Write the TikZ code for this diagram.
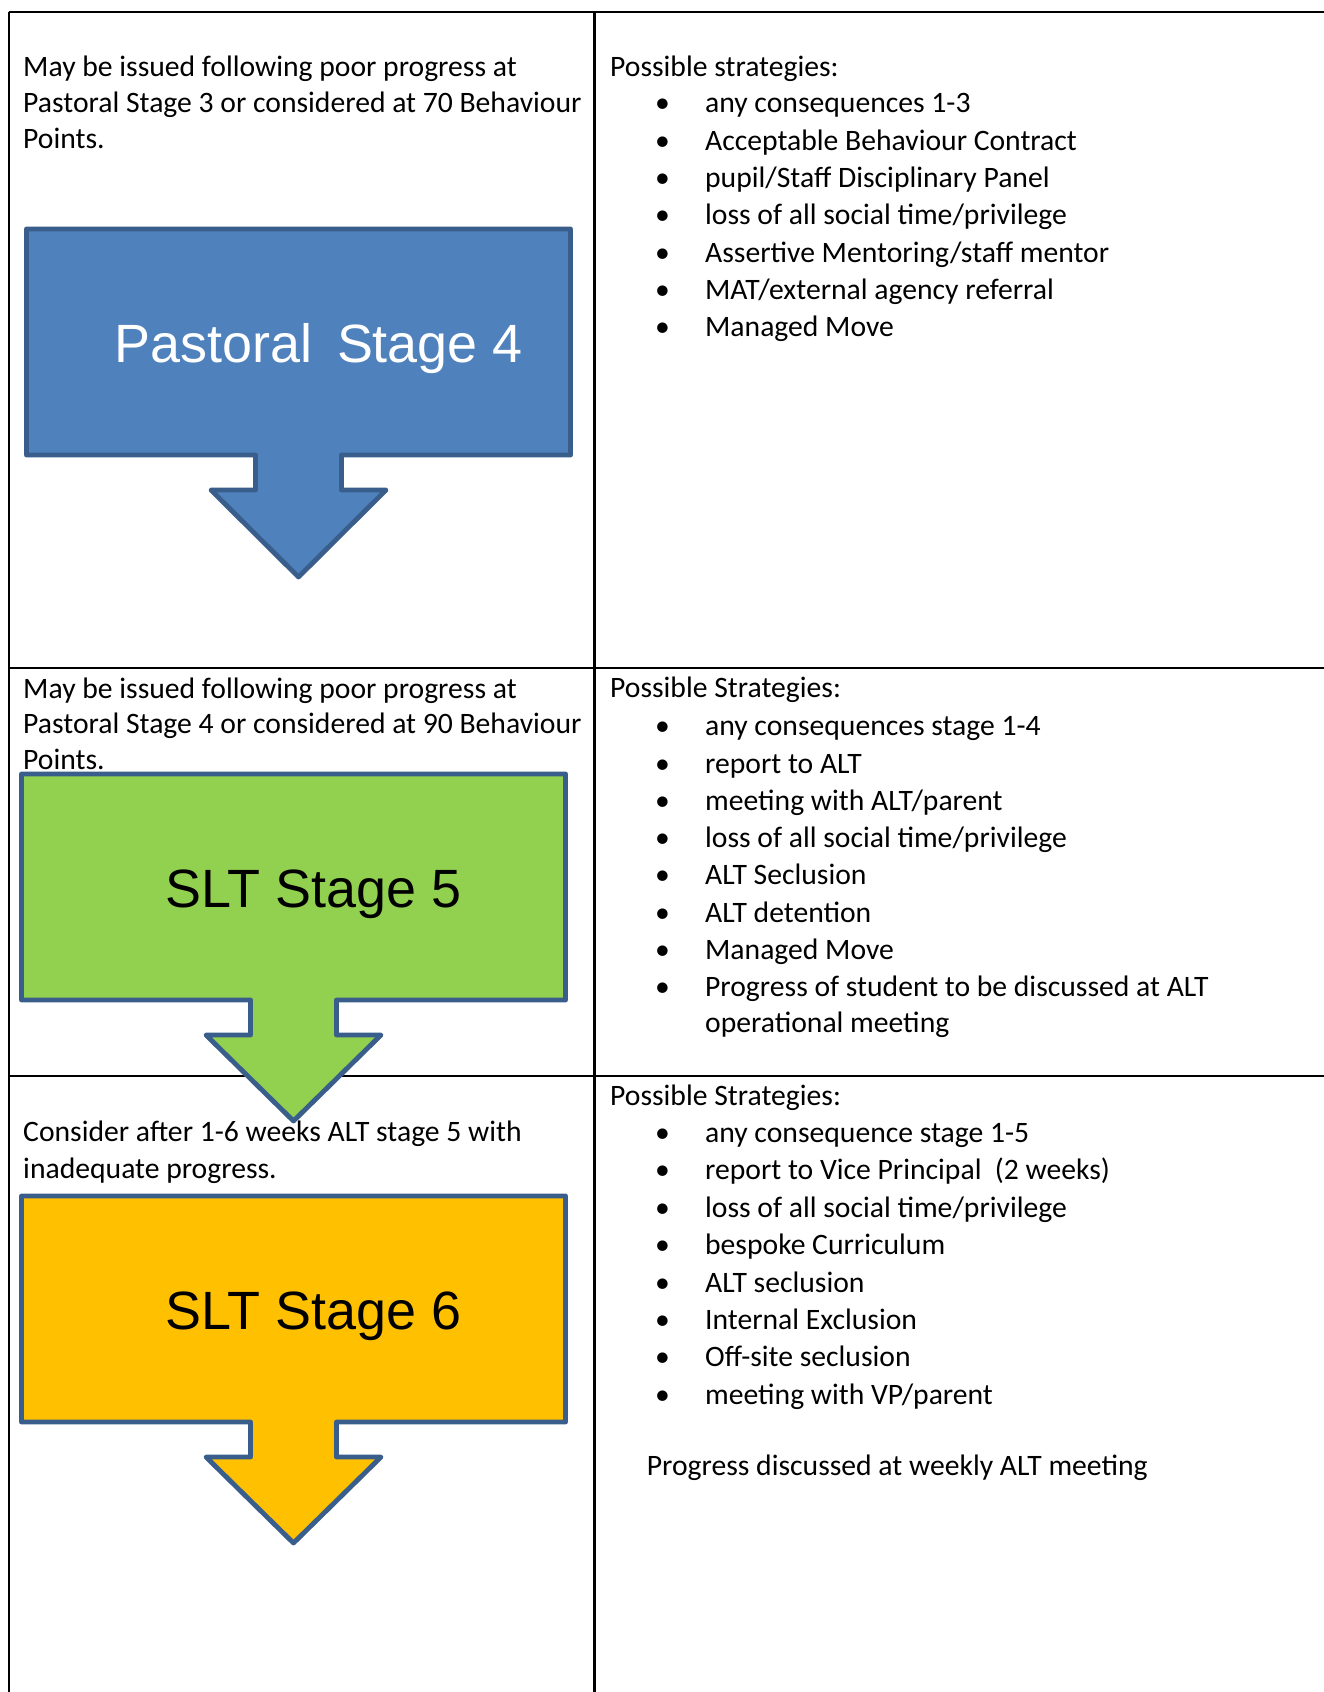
\documentclass[tikz,border=0pt]{standalone}
\usepackage{fontspec}
\setmainfont{Carlito}
\newfontfamily\arialfont{Liberation Sans}
\usetikzlibrary{positioning}
\definecolor{stageblue}{HTML}{4F81BD}
\definecolor{stagegreen}{HTML}{92D050}
\definecolor{stageorange}{HTML}{FFC000}
\definecolor{arrowline}{HTML}{3A5E8C}
\tikzstyle{grid} = [line width=0.8pt, draw=black]
\tikzstyle{txt} = [inner sep=0pt, anchor=base west, font=\fontsize{11}{13.4}\selectfont]
\tikzstyle{dot} = [inner sep=0pt, anchor=base, font=\fontsize{11}{13.4}\selectfont]
\tikzstyle{stagearrow} = [draw=arrowline, line width=1.8pt, line join=round]
\tikzstyle{stagelabel} = [inner sep=0pt, anchor=base west, font=\arialfont\fontsize{20}{24}\selectfont]

\begin{document}
\begin{tikzpicture}[x=0.371pt, y=-0.371pt]
\useasboundingbox (0,0) rectangle (1324,1692);

% table
\draw[grid] (8.6,11.9) -- (1324,11.9);
\draw[grid] (8.6,668) -- (1324,668);
\draw[grid] (8.6,1076) -- (1324,1076);
\draw[grid] (8.6,11.9) -- (8.6,1692);
\draw[grid] (594.5,11.9) -- (594.5,1692);

% stage arrows
\draw[stagearrow, fill=stageblue] (26.5,229) -- (570.5,229) -- (570.5,455) -- (341.5,455) -- (341.5,490) -- (386,490) -- (298.5,577) -- (211,490) -- (255.5,490) -- (255.5,455) -- (26.5,455) -- cycle;
\draw[stagearrow, fill=stagegreen] (21.5,774) -- (565.5,774) -- (565.5,1000) -- (336.5,1000) -- (336.5,1035) -- (381,1035) -- (293.5,1121) -- (206,1035) -- (250.5,1035) -- (250.5,1000) -- (21.5,1000) -- cycle;
\draw[stagearrow, fill=stageorange] (21.5,1196) -- (565.5,1196) -- (565.5,1422) -- (336.5,1422) -- (336.5,1457) -- (381,1457) -- (293.5,1543) -- (206,1457) -- (250.5,1457) -- (250.5,1422) -- (21.5,1422) -- cycle;

\node (lab4) [stagelabel, text=white] at (114.4,362.7) {Pastoral\ \hspace{3.5pt}Stage 4};
\node (lab5) [stagelabel] at (165,907.7) {SLT Stage 5};
\node (lab6) [stagelabel] at (165,1329.7) {SLT Stage 6};

% left column
\foreach \t [count=\i from 0] in {May be issued following poor progress at, Pastoral Stage 3 or considered at 70 Behaviour, Points.}
  \node (pre4-\i) [txt] at (22.7,{76.8+36*\i}) {\t};
\foreach \t [count=\i from 0] in {May be issued following poor progress at, Pastoral Stage 4 or considered at 90 Behaviour, Points.}
  \node (pre5-\i) [txt] at (22.7,{698.2+35.5*\i}) {\t};
\foreach \t [count=\i from 0] in {Consider after 1-6 weeks ALT stage 5 with, inadequate progress.}
  \node (pre6-\i) [txt] at (22.7,{1141.2+37*\i}) {\t};

% right column
\node (head4) [txt] at (609.6,76.2) {Possible strategies:};
\foreach \t [count=\i from 0] in {any consequences 1-3, Acceptable Behaviour Contract, pupil/Staff Disciplinary Panel, loss of all social time/privilege, Assertive Mentoring/staff mentor, MAT/external agency referral, Managed Move}{
  \node (b4-\i) [dot] at (662.6,{112.9+37.3*\i}) {\textbullet};
  \node (s4-\i) [txt] at (704.6,{112.9+37.3*\i}) {\t};
}

\node (head5) [txt] at (609.6,697.7) {Possible Strategies:};
\foreach \t [count=\i from 0] in {any consequences stage 1-4, report to ALT, meeting with ALT/parent, loss of all social time/privilege, ALT Seclusion, ALT detention, Managed Move, Progress of student to be discussed at ALT}{
  \node (b5-\i) [dot] at (662.6,{735.7+37.3*\i}) {\textbullet};
  \node (s5-\i) [txt] at (704.6,{735.7+37.3*\i}) {\t};
}
\node (s5-7b) [txt] at (704.6,1032.2) {operational meeting};

\node (head6) [txt] at (609.6,1105.7) {Possible Strategies:};
\foreach \t [count=\i from 0] in {any consequence stage 1-5, report to Vice Principal\ \ (2 weeks), loss of all social time/privilege, bespoke Curriculum, ALT seclusion, Internal Exclusion, Off-site seclusion, meeting with VP/parent}{
  \node (b6-\i) [dot] at (662.6,{1142.2+37.46*\i}) {\textbullet};
  \node (s6-\i) [txt] at (704.6,{1142.2+37.46*\i}) {\t};
}
\node (note6) [txt] at (646.3,1475.7) {Progress discussed at weekly ALT meeting};

\end{tikzpicture}
\end{document}
